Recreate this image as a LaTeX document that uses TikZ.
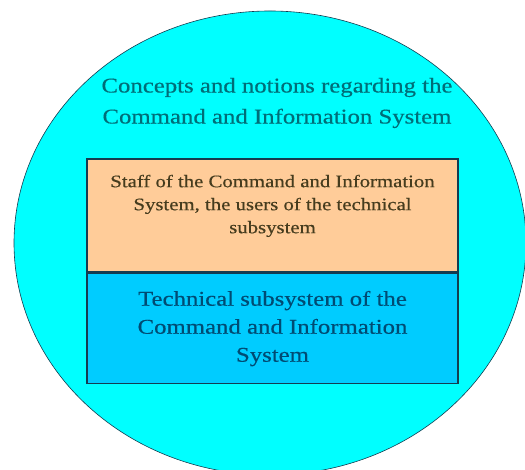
\documentclass[tikz,border=0pt]{standalone}
\usepackage{fontspec}
\setmainfont{Liberation Serif}
\newfontfamily\cisfont[FakeStretch=1.18, FakeBold=0.4]{Liberation Serif}
\usetikzlibrary{positioning}

\definecolor{cisCyan}{RGB}{0,255,255}
\definecolor{cisPeach}{RGB}{255,204,153}
\definecolor{cisBlue}{RGB}{0,204,255}
\definecolor{cisEdge}{RGB}{20,60,80}
\definecolor{cisTeal}{RGB}{0,110,120}
\definecolor{cisOlive}{RGB}{70,60,30}
\definecolor{cisNavy}{RGB}{0,75,115}

\tikzset{
  layerbox/.style={draw=cisEdge, line width=1.6pt, minimum width=371pt,
    align=center, inner sep=0pt},
}

\begin{document}
\begin{tikzpicture}[x=1pt, y=1pt]

  \useasboundingbox (0,0) rectangle (525,470);

  %% outer ellipse: the whole notion
  \draw[fill=cisCyan, draw=cisEdge, line width=0.6pt] (270,227) ellipse (256 and 232);

  \node[text=cisTeal, align=center, font=\cisfont\fontsize{21}{31}\selectfont] (concepts) at (277,367)
    {Concepts and notions regarding the\\Command and Information System};

  %% the two layers
  \node[layerbox, fill=cisPeach, minimum height=113pt, text=cisOlive,
        font=\cisfont\fontsize{17.6}{23}\selectfont] (staff) at (272.5,254.5)
    {Staff of the Command and Information\\System, the users of the technical\\subsystem\\\mbox{}};
  \node[layerbox, fill=cisBlue, minimum height=110pt, text=cisNavy,
        font=\cisfont\fontsize{21}{28}\selectfont, below=0pt of staff] (tech)
    {Technical subsystem of the\\Command and Information\\System};

\end{tikzpicture}
\end{document}
